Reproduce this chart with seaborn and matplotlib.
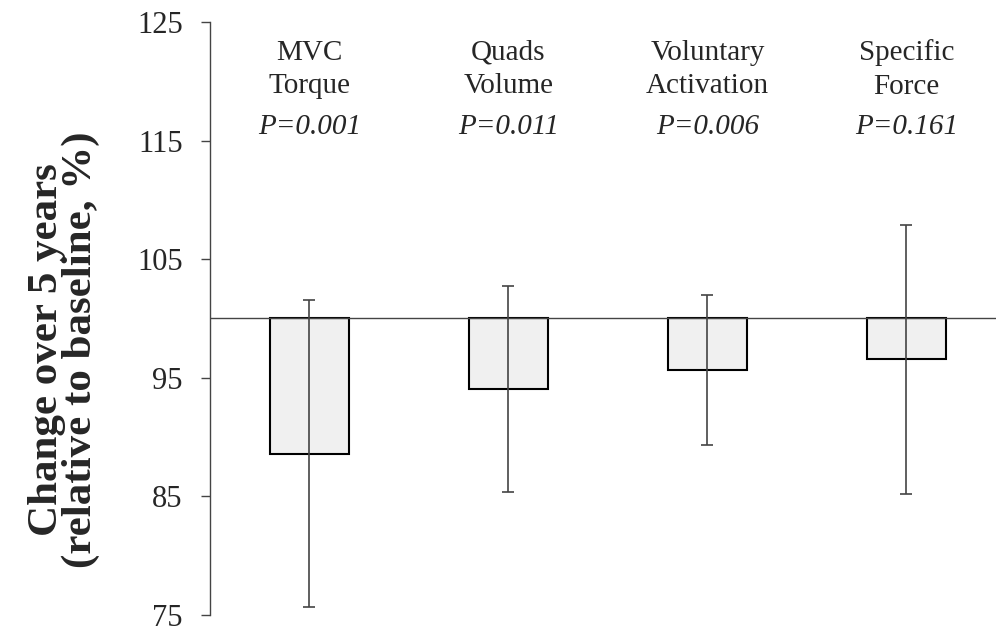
import matplotlib
matplotlib.use("Agg")
import matplotlib.pyplot as plt
import seaborn as sns
import pandas as pd

# values (% of baseline)
measures = ["MVC\nTorque", "Quads\nVolume", "Voluntary\nActivation", "Specific\nForce"]
means = [88.6, 94.05, 95.65, 96.55]
sds = [12.95, 8.7, 6.33, 11.35]
p_values = ["P=0.001", "P=0.011", "P=0.006", "P=0.161"]
baseline = 100
yticks = [75, 85, 95, 105, 115, 125]

sns.set_theme(style="white")
plt.rcParams["font.family"] = ["Liberation Serif", "DejaVu Serif"]

df = pd.DataFrame({"measure": measures, "change": [m - baseline for m in means]})

fig = plt.figure(figsize=(9.96, 6.35), dpi=100)
ax = fig.add_axes([0.2108, 0.0315, 0.7892, 0.934])

sns.barplot(data=df, x="measure", y="change", bottom=baseline, width=0.4,
            color="#f0f0f0", edgecolor="black", linewidth=1.5,
            errorbar=None, ax=ax, saturation=1)

ax.errorbar(range(len(means)), means, yerr=sds, fmt="none", ecolor="#444444",
            elinewidth=1.2, capsize=4.5, capthick=1.2, zorder=5)

ax.axhline(baseline, color="#444444", linewidth=1.0, zorder=1)

for i, (name, p) in enumerate(zip(measures, p_values)):
    ax.text(i, 121.0, name, ha="center", va="center", fontsize=21, linespacing=1.37)
    ax.text(i, 116.1, p, ha="center", va="center", fontsize=21, style="italic")

ax.set_ylim(75, 125)
ax.set_xlim(-0.5, 3.45)
ax.set_yticks(yticks)
ax.set_xticks([])
ax.set_xlabel("")
ax.set_ylabel("Change over 5 years\n(relative to baseline, %)", fontsize=31,
              fontweight="bold", linespacing=0.85)
ax.yaxis.set_label_coords(-0.140, 0.447)
ax.tick_params(axis="y", which="major", left=True, direction="out", length=6.5,
               width=1.0, color="#444444", labelsize=22, pad=13)

for side in ["top", "right", "bottom"]:
    ax.spines[side].set_visible(False)
ax.spines["left"].set_color("#444444")
ax.spines["left"].set_linewidth(1.0)

fig.savefig("out.png", dpi=100)
